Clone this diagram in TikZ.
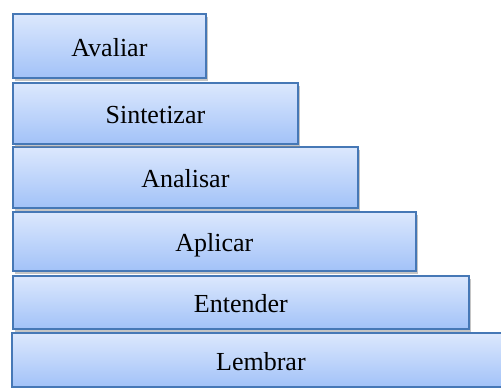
\documentclass[tikz,border=0pt]{standalone}
\usepackage{fontspec}
\setmainfont{Liberation Serif}
\usetikzlibrary{shadows}
\definecolor{boxtop}{RGB}{220,232,253}
\definecolor{boxbot}{RGB}{162,194,248}
\definecolor{boxline}{RGB}{70,120,182}
\tikzset{
  lvl/.style={rectangle, draw=boxline, line width=1.8pt, top color=boxtop, bottom color=boxbot,
    drop shadow={shadow xshift=2.5pt, shadow yshift=-3pt, fill=black!45, opacity=0.5},
    font=\fontsize{26}{29}\selectfont, text height=21pt, text depth=0pt, inner sep=0pt,
    anchor=north west}
}
\begin{document}
\begin{tikzpicture}[x=1pt,y=1pt]
\useasboundingbox (0,0) rectangle (501,-388);
\clip (0,0) rectangle (501,-388);
\fill[white] (0,0) rectangle (501,-388);
\node[lvl, minimum width=561pt, minimum height=54pt] (lem) at (11,-332) {\hspace*{-63pt}Lembrar};
\node[lvl, minimum width=456pt, minimum height=53pt] (ent) at (12,-275) {Entender};
\node[lvl, minimum width=403pt, minimum height=59pt] (apl) at (12,-211) {Aplicar};
\node[lvl, minimum width=345pt, minimum height=61pt] (ana) at (12,-146) {Analisar};
\node[lvl, minimum width=285pt, minimum height=61pt] (sin) at (12,-82) {Sintetizar};
\node[lvl, minimum width=193pt, minimum height=64pt] (ava) at (12,-13) {Avaliar};
\end{tikzpicture}
\end{document}
